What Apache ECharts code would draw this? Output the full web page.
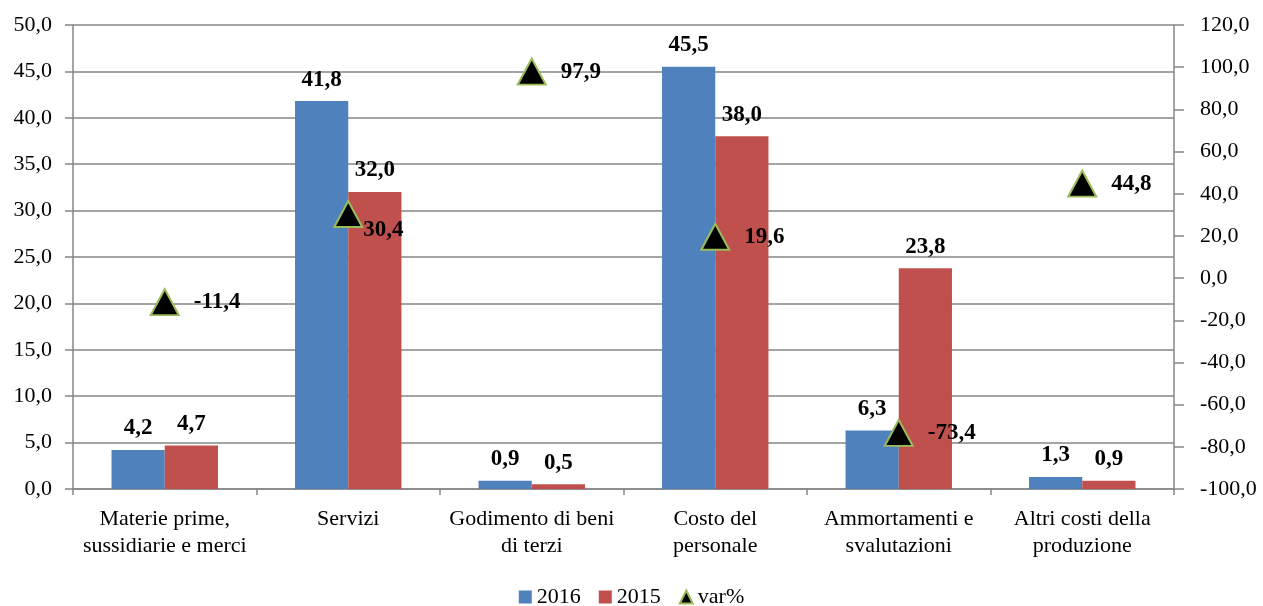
<!DOCTYPE html>
<html>
<head>
<meta charset="utf-8">
<script src="https://cdn.jsdelivr.net/npm/echarts@6/dist/echarts.min.js"></script>
<style>
  html, body { margin: 0; padding: 0; background: #fff; }
  #chart { width: 1263px; height: 606px; }
</style>
</head>
<body>
<div id="chart"></div>
<script>
var categories = ['Materie prime,\nsussidiarie e merci', 'Servizi', 'Godimento di beni\ndi terzi', 'Costo del\npersonale', 'Ammortamenti e\nsvalutazioni', 'Altri costi della\nproduzione'];
var values2016 = [4.2, 41.8, 0.9, 45.5, 6.3, 1.3];
var values2015 = [4.7, 32.0, 0.5, 38.0, 23.8, 0.9];
var varPct = [-11.4, 30.4, 97.9, 19.6, -73.4, 44.8];

var serif = '"Liberation Serif", "DejaVu Serif", serif';
var fmt = function (v) { return v.toFixed(1).replace('.', ','); };

var chart = echarts.init(document.getElementById('chart'));

var barLabel = {
  show: true,
  position: 'top',
  distance: 10,
  fontFamily: serif,
  fontSize: 23,
  fontWeight: 'bold',
  color: '#000',
  formatter: function (p) { return fmt(p.value); }
};

var varData = varPct.map(function (v, i) {
  var item = { value: v };
  if (i === 1) item.label = { offset: [-14, 16] };
  return item;
});

var option = {
  animation: false,
  grid: { left: 73, right: 89, top: 25, bottom: 117 },
  legend: {
    bottom: -7,
    left: 'center',
    itemWidth: 13,
    itemHeight: 13,
    itemGap: 18,
    textStyle: { fontFamily: serif, fontSize: 22, color: '#000' },
    data: [
      { name: '2016', icon: 'rect' },
      { name: '2015', icon: 'rect' },
      { name: 'var%', icon: 'triangle' }
    ]
  },
  xAxis: {
    type: 'category',
    data: categories,
    axisLine: { lineStyle: { color: '#868686', width: 1.5 } },
    axisTick: { show: true, length: 6, lineStyle: { color: '#868686', width: 1.5 } },
    axisLabel: {
      interval: 0,
      margin: 17,
      fontFamily: serif,
      fontSize: 22,
      lineHeight: 27,
      color: '#000'
    }
  },
  yAxis: [
    {
      type: 'value',
      min: 0,
      max: 50,
      interval: 5,
      axisLine: { show: true, lineStyle: { color: '#868686', width: 1.5 } },
      axisTick: { show: true, length: 8, lineStyle: { color: '#868686', width: 1.5 } },
      splitLine: { lineStyle: { color: '#868686', width: 1.5 } },
      axisLabel: {
        margin: 21,
        fontFamily: serif,
        fontSize: 22,
        color: '#000',
        formatter: fmt
      }
    },
    {
      type: 'value',
      min: -100,
      max: 120,
      interval: 20,
      position: 'right',
      axisLine: { show: true, lineStyle: { color: '#868686', width: 1.5 } },
      axisTick: { show: true, length: 10, lineStyle: { color: '#868686', width: 1.5 } },
      splitLine: { show: false },
      axisLabel: {
        margin: 26,
        fontFamily: serif,
        fontSize: 22,
        color: '#000',
        formatter: fmt
      }
    }
  ],
  series: [
    {
      name: '2016',
      type: 'bar',
      data: values2016,
      barGap: '0%',
      barCategoryGap: '42%',
      itemStyle: { color: '#4F81BD' },
      label: barLabel
    },
    {
      name: '2015',
      type: 'bar',
      data: values2015,
      itemStyle: { color: '#C0504D' },
      label: barLabel
    },
    {
      name: 'var%',
      type: 'line',
      yAxisIndex: 1,
      data: varData,
      lineStyle: { width: 0 },
      symbol: 'triangle',
      symbolSize: [28, 26],
      itemStyle: { color: '#000', borderColor: '#9BBB59', borderWidth: 2 },
      label: {
        show: true,
        position: 'right',
        distance: 14,
        fontFamily: serif,
        fontSize: 23,
        fontWeight: 'bold',
        color: '#000',
        formatter: function (p) { return fmt(p.value); }
      },
      z: 5
    }
  ]
};

chart.setOption(option);
</script>
</body>
</html>
